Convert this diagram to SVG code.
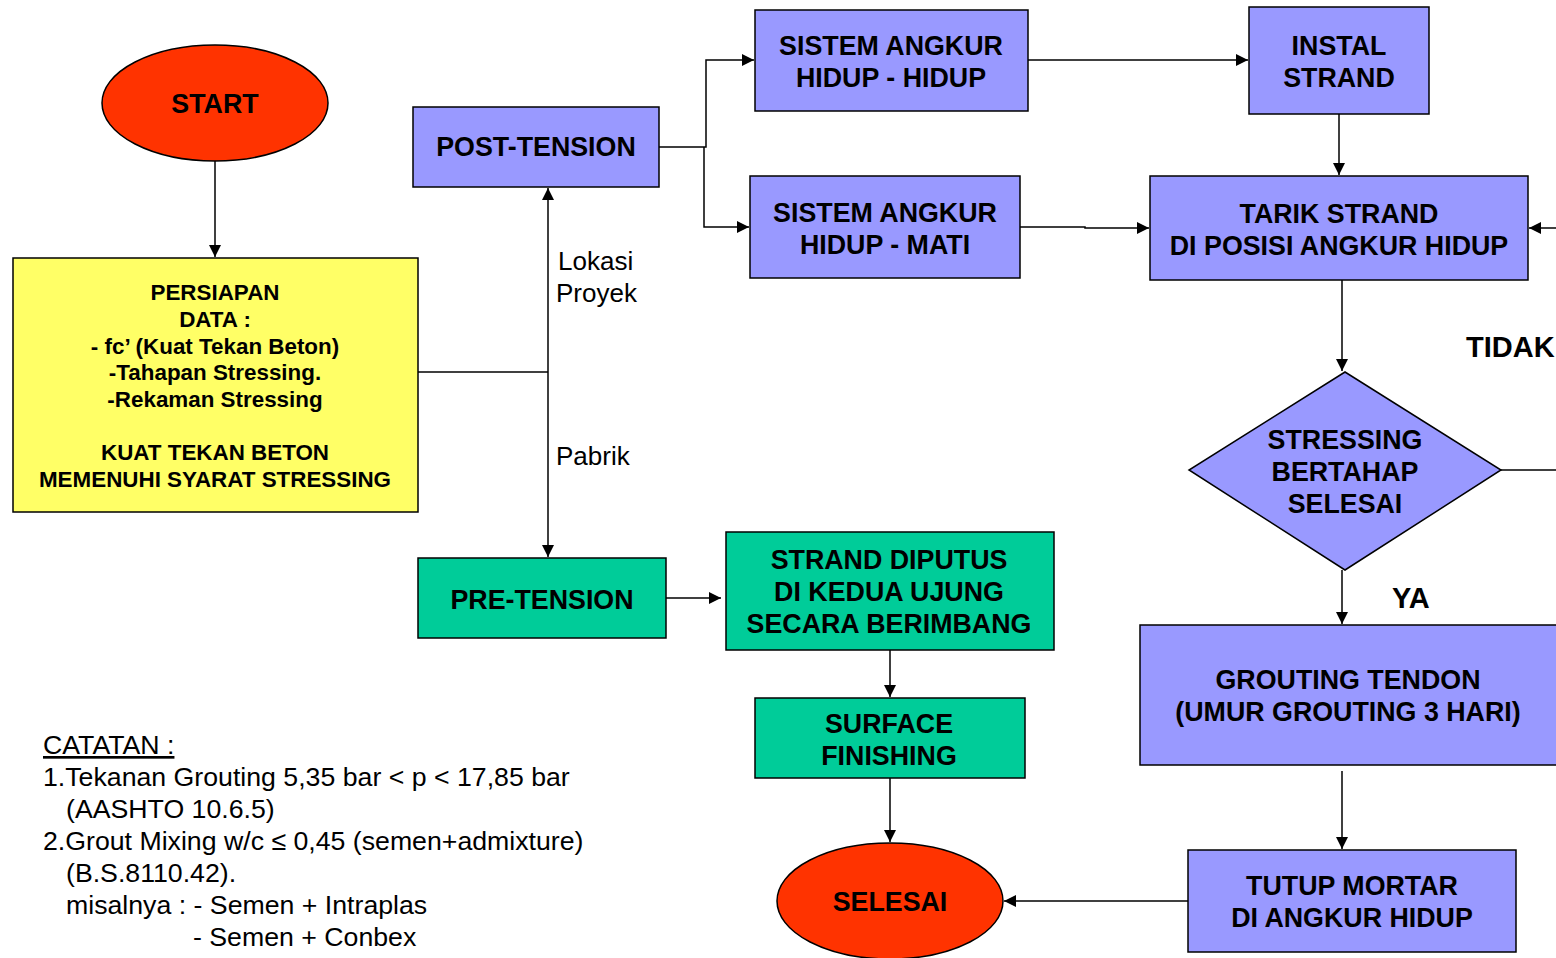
<svg xmlns="http://www.w3.org/2000/svg" width="1556" height="958" viewBox="0 0 1556 958">
<style>
.blue{fill:#9999FF;stroke:#000;stroke-width:1.5}
.green{fill:#00CC99;stroke:#000;stroke-width:1.5}
.red{fill:#FF3300;stroke:#000;stroke-width:1.5}
.yellow{fill:#FFFF66;stroke:#000;stroke-width:1.5}
.t{font-family:"Liberation Sans",Arial,sans-serif;font-weight:bold;font-size:26.8px;text-anchor:middle;fill:#000}
.ts{font-family:"Liberation Sans",Arial,sans-serif;font-weight:bold;font-size:22.4px;text-anchor:middle;fill:#000}
.tl{font-family:"Liberation Sans",Arial,sans-serif;font-weight:bold;font-size:29px;fill:#000}
.n{font-family:"Liberation Sans",Arial,sans-serif;font-size:26px;fill:#000}
.nn{font-family:"Liberation Sans",Arial,sans-serif;font-size:26.7px;fill:#000}
.c{fill:none;stroke:#000;stroke-width:1.5}
</style>
<defs>
<marker id="ah" markerUnits="userSpaceOnUse" markerWidth="14" markerHeight="12" refX="12" refY="6" orient="auto">
<path d="M0,0 L12,6 L0,12 z" fill="#000"/>
</marker>
</defs>
<rect width="1556" height="958" fill="#fff"/>

<g id="connectors">
<path class="c" d="M215,161 V257" marker-end="url(#ah)"/>
<path class="c" d="M418,372 H548"/>
<path class="c" d="M548,372 V188" marker-end="url(#ah)"/>
<path class="c" d="M548,372 V557" marker-end="url(#ah)"/>
<path class="c" d="M659,147 H706 V60 H754" marker-end="url(#ah)"/>
<path class="c" d="M704,147 V227 H749" marker-end="url(#ah)"/>
<path class="c" d="M1028,60 H1248" marker-end="url(#ah)"/>
<path class="c" d="M1339,114 V175" marker-end="url(#ah)"/>
<path class="c" d="M1020,227 H1085 V228 H1149" marker-end="url(#ah)"/>
<path class="c" d="M1556,228 H1529" marker-end="url(#ah)"/>
<path class="c" d="M1342,280 V371" marker-end="url(#ah)"/>
<path class="c" d="M1501,470 H1556"/>
<path class="c" d="M1342,570 V624" marker-end="url(#ah)"/>
<path class="c" d="M1342,771 V849" marker-end="url(#ah)"/>
<path class="c" d="M1188,901 H1004" marker-end="url(#ah)"/>
<path class="c" d="M666,598 H721" marker-end="url(#ah)"/>
<path class="c" d="M890,650 V697" marker-end="url(#ah)"/>
<path class="c" d="M890,778 V842" marker-end="url(#ah)"/>
</g>

<g id="start">
<ellipse class="red" cx="215" cy="103" rx="113" ry="58"/>
<text class="t" x="215" y="113">START</text>
</g>

<g id="persiapan">
<rect class="yellow" x="13" y="258" width="405" height="254"/>
<text class="ts" x="215" y="300">PERSIAPAN</text>
<text class="ts" x="215" y="327">DATA :</text>
<text class="ts" x="215" y="354">- fc’ (Kuat Tekan Beton)</text>
<text class="ts" x="215" y="380">-Tahapan Stressing.</text>
<text class="ts" x="215" y="407">-Rekaman Stressing</text>
<text class="ts" x="215" y="460">KUAT TEKAN BETON</text>
<text class="ts" x="215" y="487">MEMENUHI SYARAT STRESSING</text>
</g>

<g id="post-tension">
<rect class="blue" x="413" y="107" width="246" height="80"/>
<text class="t" x="536" y="156">POST-TENSION</text>
</g>

<g id="sistem-hidup-hidup">
<rect class="blue" x="755" y="10" width="273" height="101"/>
<text class="t" x="891" y="55">SISTEM ANGKUR</text>
<text class="t" x="891" y="87">HIDUP - HIDUP</text>
</g>

<g id="sistem-hidup-mati">
<rect class="blue" x="750" y="176" width="270" height="102"/>
<text class="t" x="885" y="222">SISTEM ANGKUR</text>
<text class="t" x="885" y="254">HIDUP - MATI</text>
</g>

<g id="instal-strand">
<rect class="blue" x="1249" y="7" width="180" height="107"/>
<text class="t" x="1339" y="55">INSTAL</text>
<text class="t" x="1339" y="87">STRAND</text>
</g>

<g id="tarik-strand">
<rect class="blue" x="1150" y="176" width="378" height="104"/>
<text class="t" x="1339" y="223">TARIK STRAND</text>
<text class="t" x="1339" y="255">DI POSISI ANGKUR HIDUP</text>
</g>

<g id="stressing-decision">
<polygon class="blue" points="1345,372 1501,470 1345,570 1189,470"/>
<text class="t" x="1345" y="449">STRESSING</text>
<text class="t" x="1345" y="481">BERTAHAP</text>
<text class="t" x="1345" y="513">SELESAI</text>
</g>

<g id="label-tidak"><text class="tl" x="1466" y="357">TIDAK</text></g>
<g id="label-ya"><text class="tl" x="1392" y="608">YA</text></g>

<g id="grouting">
<rect class="blue" x="1140" y="625" width="430" height="140"/>
<text class="t" x="1348" y="689">GROUTING TENDON</text>
<text class="t" x="1348" y="721">(UMUR GROUTING 3 HARI)</text>
</g>

<g id="tutup-mortar">
<rect class="blue" x="1188" y="850" width="328" height="102"/>
<text class="t" x="1352" y="895">TUTUP MORTAR</text>
<text class="t" x="1352" y="927">DI ANGKUR HIDUP</text>
</g>

<g id="selesai">
<ellipse class="red" cx="890" cy="901" rx="113" ry="58"/>
<text class="t" x="890" y="911">SELESAI</text>
</g>

<g id="pre-tension">
<rect class="green" x="418" y="558" width="248" height="80"/>
<text class="t" x="542" y="609">PRE-TENSION</text>
</g>

<g id="strand-diputus">
<rect class="green" x="726" y="532" width="328" height="118"/>
<text class="t" x="889" y="569">STRAND DIPUTUS</text>
<text class="t" x="889" y="601">DI KEDUA UJUNG</text>
<text class="t" x="889" y="633">SECARA BERIMBANG</text>
</g>

<g id="surface-finishing">
<rect class="green" x="755" y="698" width="270" height="80"/>
<text class="t" x="889" y="733">SURFACE</text>
<text class="t" x="889" y="765">FINISHING</text>
</g>

<g id="edge-labels">
<text class="n" x="558" y="270">Lokasi</text>
<text class="n" x="556" y="302">Proyek</text>
<text class="n" x="556" y="465">Pabrik</text>
</g>

<g id="catatan">
<text class="nn" x="43" y="754" text-decoration="underline">CATATAN :</text>
<text class="nn" x="43" y="786">1.Tekanan Grouting 5,35 bar &lt; p &lt; 17,85 bar</text>
<text class="nn" x="66" y="818">(AASHTO 10.6.5)</text>
<text class="nn" x="43" y="850">2.Grout Mixing w/c ≤ 0,45 (semen+admixture)</text>
<text class="nn" x="66" y="882">(B.S.8110.42).</text>
<text class="nn" x="66" y="914">misalnya : - Semen + Intraplas</text>
<text class="nn" x="193" y="946">- Semen + Conbex</text>
</g>
</svg>
